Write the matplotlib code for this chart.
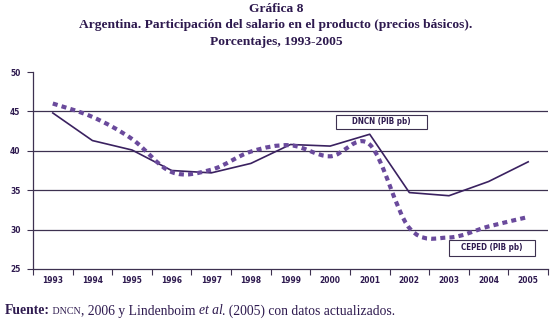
import matplotlib
matplotlib.use("Agg")
import matplotlib.pyplot as plt
from matplotlib.path import Path
from matplotlib.patches import PathPatch, Rectangle
import numpy as np

years = ["1993", "1994", "1995", "1996", "1997", "1998", "1999",
         "2000", "2001", "2002", "2003", "2004", "2005"]
dncn = [44.8, 41.3, 40.1, 37.5, 37.2, 38.4, 40.8, 40.6, 42.1, 34.7, 34.3, 36.1, 38.6]
ceped = [46.0, 44.3, 41.5, 37.3, 37.6, 39.9, 40.7, 39.3, 40.8, 30.2, 29.0, 30.4, 31.6]
yticks = [25, 30, 35, 40, 45, 50]

title_lines = ["Gráfica 8",
               "Argentina. Participación del salario en el producto (precios básicos).",
               "Porcentajes, 1993-2005"]

TXT = "#2e1a4f"
SOLID = "#3a2160"
DASH = "#6a4a9c"
GRID = "#3d3150"

W, H = 552, 321
fig = plt.figure(figsize=(5.52, 3.21), dpi=100)
ax = fig.add_axes([33/W, 1-269/H, 515/W, 197/H])

x = np.arange(len(years)) + 0.5
ax.plot(x, dncn, color=SOLID, lw=1.2, zorder=3)

# smoothed dashed line (cubic Bezier through data points, Catmull-Rom style)
pts = np.column_stack([x, ceped])
verts = [tuple(pts[0])]
codes = [Path.MOVETO]
n = len(pts)
for i in range(n - 1):
    p0 = pts[i - 1] if i > 0 else pts[i]
    p1 = pts[i]
    p2 = pts[i + 1]
    p3 = pts[i + 2] if i + 2 < n else pts[i + 1]
    c1 = p1 + (p2 - p0) / 6.0
    c2 = p2 - (p3 - p1) / 6.0
    verts += [tuple(c1), tuple(c2), tuple(p2)]
    codes += [Path.CURVE4] * 3
patch = PathPatch(Path(verts, codes), facecolor="none", edgecolor=DASH,
                  lw=3.0, linestyle=(0, (1.2, 1.0)), zorder=4, capstyle="butt")
ax.add_patch(patch)

ax.set_xlim(0, len(years))
ax.set_ylim(25, 50)
ax.set_yticks(yticks)
ax.set_xticks(np.arange(len(years) + 1))
ax.set_xticklabels([])
ax.set_xticks(x, minor=True)
ax.set_xticklabels(years, minor=True)
ax.tick_params(axis="x", which="minor", length=0, pad=5)
ax.tick_params(axis="x", which="major", length=4, direction="out", color=GRID, width=0.8)
ax.tick_params(axis="y", length=4, direction="out", color=GRID, width=0.8, pad=5)

for lab in ax.get_xticklabels(minor=True) + ax.get_yticklabels():
    lab.set_fontsize(6)
    lab.set_fontweight("bold")
    lab.set_fontstretch("condensed")
    lab.set_color(TXT)

for v in [30, 35, 40, 45]:
    ax.axhline(v, color=GRID, lw=0.9, zorder=1)

for s in ["top", "right"]:
    ax.spines[s].set_visible(False)
for s in ["left", "bottom"]:
    ax.spines[s].set_color(GRID)
    ax.spines[s].set_linewidth(0.9)

# series labels in boxes (figure pixel placement)
def label_box(text, x0, x1, ytop, ybot):
    fig.patches.append(Rectangle((x0/W, 1-ybot/H), (x1-x0)/W, (ybot-ytop)/H,
                                 transform=fig.transFigure, facecolor="white",
                                 edgecolor=GRID, lw=0.8, zorder=5))
    fig.text((x0+x1)/2/W, 1-(ytop+ybot)/2/H, text, ha="center", va="center",
             fontsize=5.8, fontweight="bold", fontstretch="condensed",
             color=TXT, zorder=6)

label_box("DNCN (PIB pb)", 336, 427, 115, 129)
label_box("CEPED (PIB pb)", 449, 535, 240, 256)

# title
serif = "Liberation Serif"
ys = [9, 25, 42]
for t, yy in zip(title_lines, ys):
    fig.text(276/W, 1-yy/H, t, ha="center", va="center", fontsize=9.7,
             fontweight="bold", family=serif, color=TXT)

# source line
fig.canvas.draw()
r = fig.canvas.get_renderer()
xpos = 5
ypos = 1 - 311/H
pieces = [("Fuente:", dict(fontweight="bold", fontsize=9.8)),
          (" DNCN", dict(fontsize=7.2)),
          (", 2006 y Lindenboim ", dict()),
          ("et al", dict(style="italic")),
          (". (2005) con datos actualizados.", dict())]
for txt, kw in pieces:
    kw = dict(kw)
    fs = kw.pop("fontsize", 9.8)
    t = fig.text(xpos/W, ypos, txt, ha="left", va="center", family=serif,
                 fontsize=fs, color=TXT, **kw)
    bb = t.get_window_extent(r)
    xpos = bb.x1

fig.savefig("out.png", dpi=100)
